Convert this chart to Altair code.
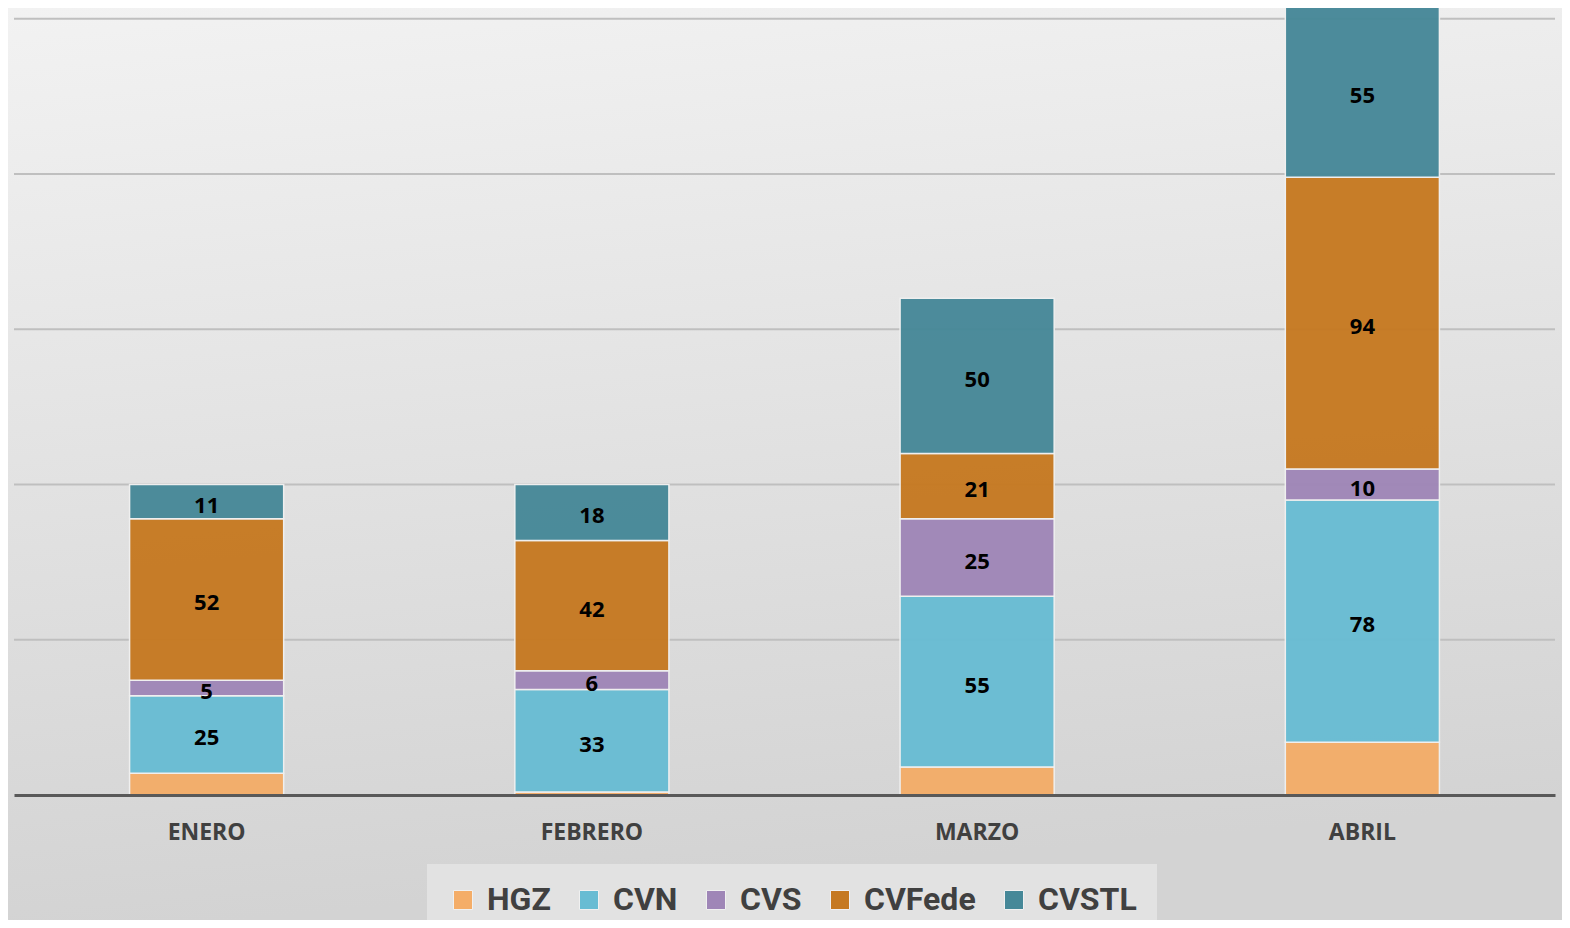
import altair as alt
import pandas as pd

months = ["ENERO", "FEBRERO", "MARZO", "ABRIL"]
series = ["HGZ", "CVN", "CVS", "CVFede", "CVSTL"]
hgz = [7, 1, 9, 17]
cvn = [25, 33, 55, 78]
cvs = [5, 6, 25, 10]
cvfede = [52, 42, 21, 94]
cvstl = [11, 18, 50, 55]
colors = ["#F4AD68", "#68BCD3", "#9F86B7", "#C67921", "#468898"]
grid_values = [50, 100, 150, 200, 250]

values_by_series = [hgz, cvn, cvs, cvfede, cvstl]
rows = []
for i, (s, vals) in enumerate(zip(series, values_by_series)):
    for m, v in zip(months, vals):
        rows.append({"mes": m, "serie": s, "valor": v, "idx": i})
df = pd.DataFrame(rows)

W, H = 1541, 787
y_scale = alt.Scale(domain=[0, 253.5], nice=False, zero=True)
x_enc = alt.X(
    "mes:N",
    sort=months,
    scale=alt.Scale(paddingInner=0.6, paddingOuter=0.3),
    axis=alt.Axis(
        title=None,
        ticks=False,
        grid=False,
        labelAngle=0,
        labelFont="Open Sans",
        labelFontWeight="bold",
        labelFontSize=23,
        labelColor="#404040",
        labelPadding=26,
        domainColor="#595959",
        domainWidth=3,
        zindex=1,
    ),
)

bg = alt.Chart(pd.DataFrame({"a": [0]})).mark_rect(
    color=alt.LinearGradient(
        gradient="linear",
        stops=[
            alt.GradientStop(color="#f2f2f2", offset=0),
            alt.GradientStop(color="#d3d3d3", offset=1),
        ],
        x1=0, x2=0.15, y1=0, y2=1,
    )
).encode(
    x=alt.value(-6), x2=alt.value(W + 7), y=alt.value(0), y2=alt.value(H + 125)
)

grid = alt.Chart(pd.DataFrame({"v": grid_values})).mark_rule(
    color="#bfbfbf", strokeWidth=2
).encode(y=alt.Y("v:Q", scale=y_scale, axis=None))

bars = alt.Chart(df).mark_bar(
    stroke="#f0f0f0", strokeWidth=1.5, opacity=0.96
).encode(
    x=x_enc,
    y=alt.Y("valor:Q", stack="zero", scale=y_scale, axis=None),
    color=alt.Color(
        "serie:N",
        scale=alt.Scale(domain=series, range=colors),
        sort=series,
        legend=alt.Legend(
            title=None,
            orient="none",
            legendX=413,
            legendY=856,
            direction="horizontal",
            fillColor="#e2e2e2",
            padding=20,
            symbolType="square",
            symbolSize=361,
            symbolStrokeWidth=1,
            symbolStrokeColor="#f0f0f0",
            symbolOpacity=1,
            labelFont="Roboto",
            labelFontWeight="bold",
            labelFontSize=32,
            labelColor="#404040",
            labelOffset=8,
            columnPadding=22,
        ),
    ),
    order=alt.Order("idx:Q", sort="ascending"),
)

labels = alt.Chart(df).transform_stack(
    stack="valor", as_=["v0", "v1"], groupby=["mes"], sort=[alt.SortField("idx", order="ascending")]
).transform_calculate(
    mid="(datum.v0 + datum.v1) / 2"
).transform_filter(
    alt.datum.serie != "HGZ"
).mark_text(
    font="Open Sans", fontWeight="bold", fontSize=22, color="black", baseline="middle", dy=4
).encode(
    x=alt.X("mes:N", sort=months),
    y=alt.Y("mid:Q", scale=y_scale, axis=None),
    text=alt.Text("valor:Q"),
)

chart = alt.layer(bg, grid, bars, labels).properties(
    width=W,
    height=H,
    autosize=alt.AutoSizeParams(type="none"),
    padding={"left": 6, "top": 0, "right": 7, "bottom": 125},
    background="#d5d5d5",
).configure_view(stroke=None)

chart.save("out.html", embed_options={"renderer": "svg", "actions": False})
